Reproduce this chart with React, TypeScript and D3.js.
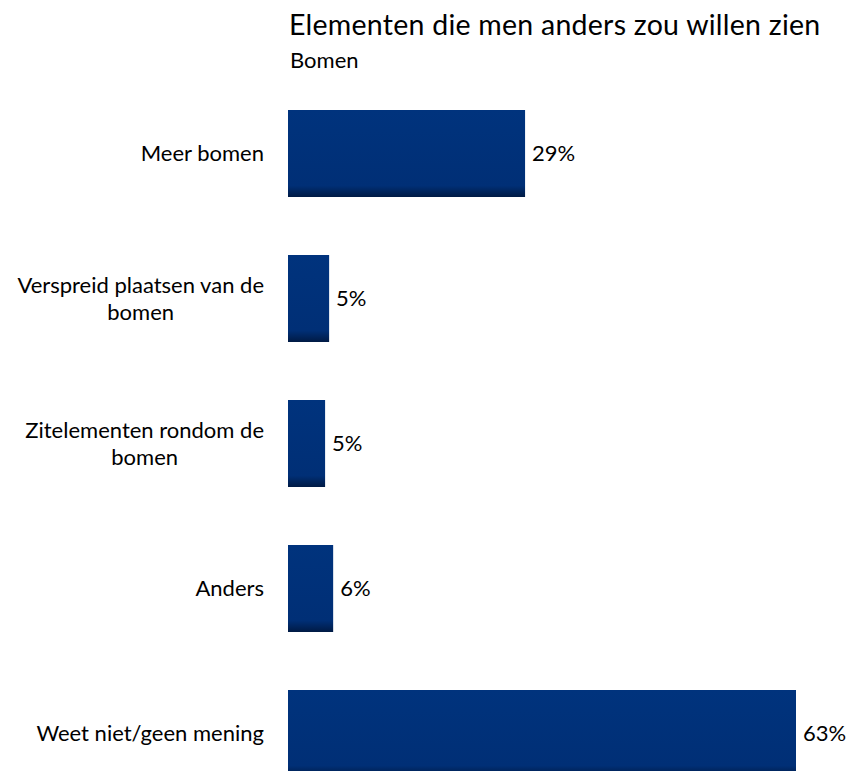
import React, { useEffect, useRef } from "react";
import * as d3 from "d3";

const categories = [
  ["Meer bomen"],
  ["Verspreid plaatsen van de", "bomen"],
  ["Zitelementen rondom de", "bomen"],
  ["Anders"],
  ["Weet niet/geen mening"],
];
const values = [29.4, 5.1, 4.6, 5.6, 63];
const valueLabels = ["29%", "5%", "5%", "6%", "63%"];
const title = "Elementen die men anders zou willen zien";
const subtitle = "Bomen";

const W = 852;
const H = 771;
const FONT = "Lato, 'Open Sans', sans-serif";
const LABEL_SIZE = 22;

export default function App() {
  const ref = useRef<SVGSVGElement>(null);
  useEffect(() => {
    const svg = d3.select(ref.current);
    svg.selectAll("*").remove();

    const defs = svg.append("defs");
    const grad = defs
      .append("linearGradient")
      .attr("id", "barGrad")
      .attr("x1", 0)
      .attr("y1", 0)
      .attr("x2", 0)
      .attr("y2", 1);
    grad.append("stop").attr("offset", "0%").attr("stop-color", "#00337d");
    grad.append("stop").attr("offset", "87%").attr("stop-color", "#002f76");
    grad.append("stop").attr("offset", "100%").attr("stop-color", "#001a44");

    const x = d3.scaleLinear().domain([0, 63]).range([288, 796]);
    const y = d3
      .scaleBand<number>()
      .domain(d3.range(values.length))
      .range([81, 806])
      .paddingInner(0.4)
      .paddingOuter(0.2);

    svg
      .append("text")
      .attr("x", 289)
      .attr("y", 35)
      .attr("font-family", FONT)
      .attr("font-size", 28.5)
      .attr("letter-spacing", 0.25)
      .attr("fill", "#000")
      .text(title);
    svg
      .append("text")
      .attr("x", 290)
      .attr("y", 68)
      .attr("font-family", FONT)
      .attr("font-size", LABEL_SIZE)
      .attr("fill", "#000")
      .text(subtitle);

    const g = svg.append("g");
    values.forEach((v, i) => {
      const by = y(i)!;
      const bh = y.bandwidth();
      g.append("rect")
        .attr("x", x(0))
        .attr("y", by)
        .attr("width", x(v) - x(0))
        .attr("height", bh)
        .attr("fill", "url(#barGrad)");
      g.append("text")
        .attr("x", x(v) + 7)
        .attr("y", by + bh / 2)
        .attr("dy", "0.35em")
        .attr("font-family", FONT)
        .attr("font-size", LABEL_SIZE)
        .attr("fill", "#000")
        .text(valueLabels[i]);

      const lines = categories[i];
      const lh = 27;
      const t = g
        .append("text")
        .attr("font-family", FONT)
        .attr("font-size", LABEL_SIZE)
        .attr("fill", "#000");
      lines.forEach((ln, k) => {
        t.append("tspan")
          .attr("x", 0)
          .attr("y", by + bh / 2 + (k - (lines.length - 1) / 2) * lh)
          .attr("dy", "0.35em")
          .text(ln);
      });
      const tspans = t.selectAll<SVGTSpanElement, unknown>("tspan").nodes();
      const widths = tspans.map((n) => n.getComputedTextLength());
      const maxW = Math.max(...widths);
      const right = 264;
      const cx = right - maxW / 2;
      t.attr("text-anchor", "middle");
      t.selectAll("tspan").attr("x", cx);
    });
  }, []);
  return (
    <svg
      ref={ref}
      width={W}
      height={H}
      style={{ position: "absolute", left: 0, top: 0, background: "#fff" }}
    />
  );
}
